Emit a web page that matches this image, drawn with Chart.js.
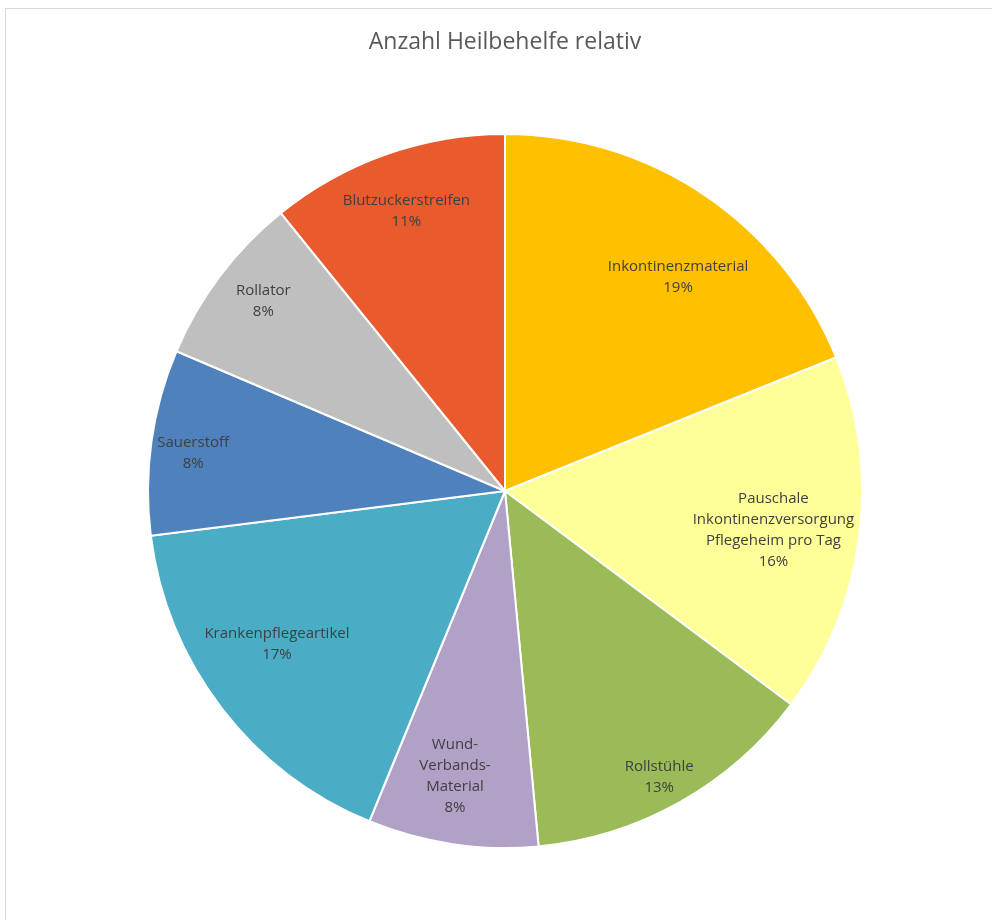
<!DOCTYPE html>
<html><head><meta charset="utf-8">
<script src="https://cdn.jsdelivr.net/npm/chart.js@4/dist/chart.umd.min.js"></script>
<style>
html,body{margin:0;padding:0;background:#fff;}
#wrap{position:relative;width:992px;height:920px;}
#frame{position:absolute;left:5px;top:8px;right:-2px;bottom:-2px;border-left:1px solid #d9d9d9;border-top:1px solid #d9d9d9;}
canvas{position:absolute;left:0;top:0;}
</style></head>
<body><div id="wrap"><div id="frame"></div><canvas id="c" width="992" height="920"></canvas></div>
<script>
const title = "Anzahl Heilbehelfe relativ";
const categories = [
  ["Inkontinenzmaterial"],
  ["Pauschale","Inkontinenzversorgung","Pflegeheim pro Tag"],
  ["Rollstühle"],
  ["Wund-","Verbands-","Material"],
  ["Krankenpflegeartikel"],
  ["Sauerstoff"],
  ["Rollator"],
  ["Blutzuckerstreifen"]
];
const values = [18.9, 16.3, 13.3, 7.7, 16.8, 8.4, 7.8, 10.8];
const colors = ["#FFC000","#FFFF99","#9BBB59","#B2A1C7","#4BACC6","#4F81BD","#BFBFBF","#E95A2C"];
// label placement (fraction of radius, angle shift in degrees) – style only
const labelRadius = [0.77, 0.76, 0.91, 0.81, 0.77, 0.88, 0.86, 0.83];
const labelShift = [5, 1, 1, 1.5, 3.5, -1, 1, 0];

const labelPlugin = {
  id:'pieLabels',
  afterDatasetsDraw(chart){
    const ctx = chart.ctx;
    const meta = chart.getDatasetMeta(0);
    const total = values.reduce((a,b)=>a+b,0);
    ctx.save();
    ctx.font = '15px "Open Sans"';
    ctx.fillStyle = '#404040';
    ctx.textAlign = 'center';
    ctx.textBaseline = 'middle';
    meta.data.forEach((arc,i)=>{
      const p = arc.getProps(['x','y','startAngle','endAngle','outerRadius'],true);
      const a = (p.startAngle+p.endAngle)/2 + labelShift[i]*Math.PI/180;
      const r = p.outerRadius*labelRadius[i];
      const cx = p.x + Math.cos(a)*r, cy = p.y + Math.sin(a)*r;
      const lines = categories[i].concat([Math.round(values[i]/total*100)+'%']);
      const lh = 21;
      lines.forEach((t,k)=>{
        ctx.fillText(t, cx, cy + (k-(lines.length-1)/2)*lh);
      });
    });
    ctx.restore();
  }
};

new Chart(document.getElementById('c'),{
  type:'pie',
  data:{labels:categories.map(l=>l.join(' ')),datasets:[{data:values,backgroundColor:colors,borderColor:'#ffffff',borderWidth:2}]},
  options:{
    responsive:false,animation:false,
    layout:{padding:{left:18,right:0,top:0,bottom:71}},
    plugins:{
      legend:{display:false},tooltip:{enabled:false},
      title:{display:true,text:title,color:'#595959',font:{family:'"Open Sans"',size:23,weight:'normal'},padding:{top:29,bottom:76.4}}
    }
  },
  plugins:[labelPlugin]
});
</script></body></html>
